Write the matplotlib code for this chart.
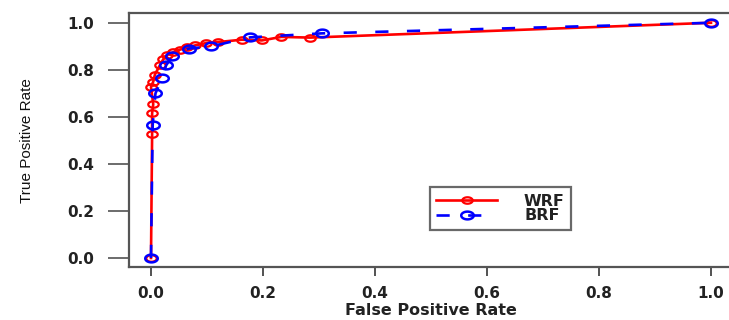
import numpy as np
import matplotlib
matplotlib.use("Agg")
import matplotlib.pyplot as plt
from matplotlib.path import Path

# ROC points for the two forests
wrf_fpr = [0.0, 0.002, 0.002, 0.004, 0.0, 0.004, 0.007, 0.016, 0.022, 0.028,
           0.040, 0.052, 0.065, 0.079, 0.099, 0.120, 0.162, 0.198, 0.233, 0.284, 1.0]
wrf_tpr = [0.0, 0.526, 0.615, 0.654, 0.727, 0.750, 0.780, 0.820, 0.845, 0.862,
           0.875, 0.886, 0.895, 0.904, 0.914, 0.918, 0.928, 0.925, 0.940, 0.937, 1.0]

brf_fpr = [0.0, 0.003, 0.008, 0.020, 0.027, 0.038, 0.067, 0.108, 0.177, 0.305, 1.0]
brf_tpr = [0.0, 0.565, 0.700, 0.764, 0.819, 0.857, 0.890, 0.900, 0.938, 0.955, 1.0]

ticks = [0.0, 0.2, 0.4, 0.6, 0.8, 1.0]
tick_labels = ["0.0", "0.2", "0.4", "0.6", "0.8", "1.0"]

# flattened open circle, wider than tall
theta = np.linspace(0, 2 * np.pi, 60)
ellipse = Path(np.column_stack([np.cos(theta), 0.62 * np.sin(theta)]), closed=True)

fig = plt.figure(figsize=(7.29, 3.2), dpi=100)
ax = fig.add_axes([0.1764, 0.1644, 0.8296, 0.7938])

ax.plot(wrf_fpr, wrf_tpr, color="red", linewidth=1.9, linestyle="-",
        marker=ellipse, markersize=7.5, markerfacecolor="none",
        markeredgewidth=1.6, label="WRF", zorder=2)
ax.plot(brf_fpr, brf_tpr, color="blue", linewidth=1.9, linestyle=(0, (5.0, 7.0)),
        marker=ellipse, markersize=9, markerfacecolor="none",
        markeredgewidth=1.8, label="BRF", zorder=3)

ax.set_xlim(-0.04, 1.04)
ax.set_ylim(-0.04, 1.04)

tick_font = dict(family="DejaVu Sans", weight="bold", size=11, color="#222222")
ax.set_xticks(ticks)
ax.set_xticklabels(tick_labels, **tick_font)
ax.set_yticks(ticks)
ax.set_yticklabels(tick_labels, **tick_font)
ax.tick_params(axis="x", length=6.5, width=1.3, color="#444444", pad=7)
ax.tick_params(axis="y", length=15, width=1.1, color="#444444", pad=10)

for spine in ax.spines.values():
    spine.set_linewidth(1.6)
    spine.set_color("#555555")

ax.set_xlabel("False Positive Rate", family="DejaVu Sans", weight="bold",
              size=11.5, color="#222222")
ax.xaxis.set_label_coords(0.5, -0.14)
ax.set_ylabel("True Positive Rate", family="Liberation Sans", size=11,
              color="#111111")
ax.yaxis.set_label_coords(-0.156, 0.5)

leg = ax.legend(loc="upper left", bbox_to_anchor=(0.498, 0.316),
                borderaxespad=0, frameon=True, fancybox=False,
                prop=dict(family="DejaVu Sans", weight="bold", size=11.5),
                handlelength=3.8, handletextpad=1.7, labelspacing=-0.02,
                borderpad=0.4)
leg.get_frame().set_edgecolor("#444444")
leg.get_frame().set_linewidth(1.6)
for t in leg.get_texts():
    t.set_color("#222222")

fig.savefig("out.png", dpi=100)
